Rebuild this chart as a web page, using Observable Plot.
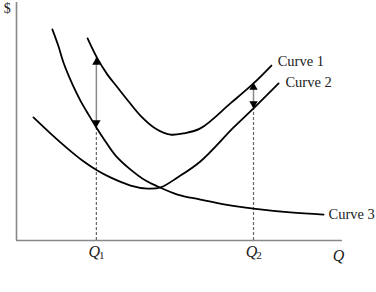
<!DOCTYPE html>
<html><head><meta charset="utf-8">
<script src="https://cdn.jsdelivr.net/npm/d3@7"></script>
<script src="https://cdn.jsdelivr.net/npm/@observablehq/plot@0.6"></script>
<style>body{margin:0;background:#fff}</style>
</head><body><div id="chart"></div>
<script>
// Curve 1 (top U)
const curve1Q = [21.8, 24.8, 27.9, 31.0, 34.4, 38.0, 42.6, 47.2, 51.2, 56.4, 65.6, 72.7, 78.2];
const curve1V = [84.9, 76.5, 69.7, 64.3, 58.4, 52.5, 47.1, 44.5, 45.0, 47.1, 57.6, 66.0, 73.5];
// Curve 2 (lower U)
const curve2Q = [5.2, 10.4, 15.6, 20.2, 24.8, 28.8, 35.0, 40.2, 44.2, 49.4, 56.4, 66.6, 72.7, 80.4];
const curve2V = [51.7, 45.0, 38.7, 33.6, 29.4, 26.5, 23.1, 21.8, 22.3, 26.5, 33.2, 47.5, 55.5, 66.0];
// Curve 3 (falling)
const curve3Q = [11.0, 12.9, 14.4, 17.2, 19.6, 22.1, 24.5, 27.3, 30.4, 35.0, 39.6, 43.3, 49.4, 56.4, 64.1, 72.7, 84.0, 94.2];
const curve3V = [88.7, 81.5, 74.8, 65.5, 58.8, 52.9, 47.5, 41.6, 35.7, 29.8, 25.2, 22.7, 19.3, 17.2, 15.1, 13.4, 11.8, 10.9];

// Marked quantities and arrows
const markQ = [24.5, 72.7];
const markSub = ["1", "2"];
const arrowHigh = [76.9, 66.4];
const arrowLow = [47.5, 55.5];

// Curve labels
const labelText = ["Curve 1", "Curve 2", "Curve 3"];
const labelQ = [80.1, 82.5, 95.7];
const labelV = [75.2, 66.4, 10.9];

const toRows = (qs, vs) => qs.map((q, i) => ({q, v: vs[i]}));
const c1 = toRows(curve1Q, curve1V);
const c2 = toRows(curve2Q, curve2V);
const c3 = toRows(curve3Q, curve3V);
const marks = markQ.map((q, i) => ({q, sub: markSub[i], high: arrowHigh[i], low: arrowLow[i]}));
const labels = labelText.map((t, i) => ({t, q: labelQ[i], v: labelV[i]}));

const font = "Liberation Serif";
const chart = Plot.plot({
  width: 376, height: 292,
  marginLeft: 16, marginRight: 34, marginTop: 2, marginBottom: 52,
  x: {domain: [0, 100], axis: null},
  y: {domain: [0, 100], axis: null},
  style: {fontFamily: font, background: "#fff", color: "#222"},
  marks: [
    Plot.ruleX([0], {stroke: "#888", strokeWidth: 1.6}),
    Plot.ruleY([0], {stroke: "#888", strokeWidth: 1.6}),
    Plot.ruleX(marks, {x: "q", y1: 0, y2: "low", stroke: "#666", strokeWidth: 1.2, strokeDasharray: "3,2"}),
    Plot.ruleX(marks, {x: "q", y1: "low", y2: "high", stroke: "#888", strokeWidth: 1.5}),
    Plot.line(c1, {x: "q", y: "v", curve: "catmull-rom", stroke: "#000", strokeWidth: 1.8}),
    Plot.line(c2, {x: "q", y: "v", curve: "catmull-rom", stroke: "#000", strokeWidth: 1.8}),
    Plot.line(c3, {x: "q", y: "v", curve: "catmull-rom", stroke: "#000", strokeWidth: 1.8}),
    Plot.dot(marks, {x: "q", y: "high", symbol: "triangle", r: 3.1, fill: "#000", stroke: "none", dy: 4.8}),
    Plot.dot(marks, {x: "q", y: "low", symbol: "triangle", r: 3.1, fill: "#000", stroke: "none", rotate: 180, dy: -4.8}),
    Plot.text(labels, {x: "q", y: "v", text: "t", textAnchor: "start", fontSize: 14.5, fill: "#222"}),
    Plot.text(marks, {x: "q", y: -4.6, text: () => "Q", fontStyle: "italic", fontSize: 16, dx: -2, fill: "#222"}),
    Plot.text(marks, {x: "q", y: -4.6, text: "sub", fontSize: 11, dx: 5.5, dy: 4, fill: "#222"}),
    Plot.text(["Q"], {x: 98.8, y: -6.6, text: d => d, fontStyle: "italic", fontSize: 16, fill: "#222"}),
    Plot.text(["$"], {x: -2.8, y: 97.5, text: d => d, fontSize: 14, fill: "#222"})
  ]
});
document.getElementById("chart").append(chart);
</script>
</body></html>
